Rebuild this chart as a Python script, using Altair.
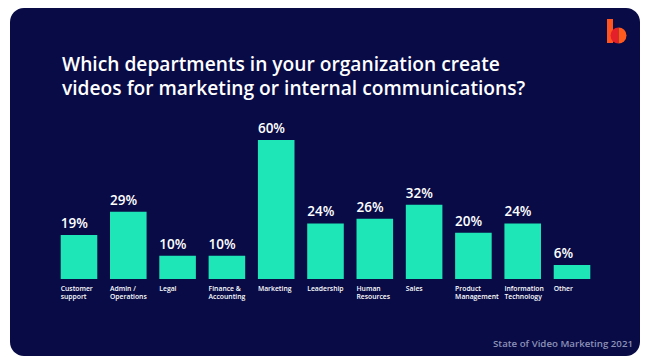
import altair as alt
import pandas as pd

# ---- data -------------------------------------------------------------
categories = ["Customer\nsupport", "Admin /\nOperations", "Legal", "Finance &\nAccounting",
              "Marketing", "Leadership", "Human\nResources", "Sales",
              "Product\nManagement", "Information\nTechnology", "Other"]
values = [19, 29, 10, 10, 60, 24, 26, 32, 20, 24, 6]
title_lines = ["Which departments in your organization create",
               "videos for marketing or internal communications?"]
footer_text = "State of Video Marketing 2021"

df = pd.DataFrame({"dept": categories, "pct": values})
df["label"] = df["pct"].astype(str) + "%"

NAVY = "#080b46"
TEAL = "#1fe6b6"
FONT = "Open Sans"

xscale = alt.Scale(range=[50.7, 580.3], paddingInner=0.258, paddingOuter=0)
yscale = alt.Scale(domain=[0, 60], range=[271, 132])

base = alt.Chart(df)

bars = base.mark_bar(color=TEAL).encode(
    x=alt.X("dept:N", sort=None, axis=None, scale=xscale),
    y=alt.Y("pct:Q", axis=None, scale=yscale),
)

pct_labels = base.mark_text(
    align="left", baseline="alphabetic", dy=-7, font=FONT, fontWeight=600,
    fontSize=13.5, color="white",
).encode(
    x=alt.X("dept:N", sort=None, axis=None, scale=xscale, bandPosition=0),
    y=alt.Y("pct:Q", axis=None, scale=yscale),
    text="label:N",
)

cat_labels = base.mark_text(
    align="left", baseline="top", lineBreak="\n", lineHeight=8, font=FONT,
    fontWeight=600, fontSize=6.8, color="white",
).encode(
    x=alt.X("dept:N", sort=None, axis=None, scale=xscale, bandPosition=0),
    y=alt.value(278),
    text="dept:N",
)

title_df = pd.DataFrame({"t": title_lines, "row": [0, 1]})
title = alt.Chart(title_df).mark_text(
    align="left", baseline="alphabetic", font=FONT,
    fontWeight=600, fontSize=19.2, color="white",
).encode(
    x=alt.value(52),
    y=alt.Y("row:Q", axis=None, scale=alt.Scale(domain=[0, 1], range=[63, 86.5])),
    text="t:N",
)

footer = alt.Chart(pd.DataFrame({"t": [footer_text]})).mark_text(
    align="right", baseline="alphabetic", font=FONT, fontWeight=600,
    fontSize=9.7, color="#8d91b8",
).encode(x=alt.value(623), y=alt.value(339), text="t:N")

one = pd.DataFrame({"k": [0]})
logo_stem = alt.Chart(one).mark_rect(color="#ff5420").encode(
    x=alt.value(597), x2=alt.value(603), y=alt.value(11), y2=alt.value(35)
)
logo_right = alt.Chart(one).mark_arc(color="#ff5a1e", radius=8, theta=0, theta2=3.14159).encode(
    x=alt.value(608.5), y=alt.value(27.5)
)
logo_left = alt.Chart(one).mark_arc(color="#e4202b", radius=8, theta=3.14159, theta2=6.28318).encode(
    x=alt.value(608.5), y=alt.value(27.5)
)

chart = alt.layer(
    bars, pct_labels, cat_labels, title, footer, logo_stem, logo_left, logo_right
).resolve_scale(y="independent").properties(
    width=630, height=348,
    padding={"left": 2, "top": 0, "right": 0, "bottom": 0},
    background="white",
).configure_view(fill=NAVY, stroke=None, cornerRadius=14)

chart.save("out.html", embed_options={"renderer": "svg", "actions": False})
